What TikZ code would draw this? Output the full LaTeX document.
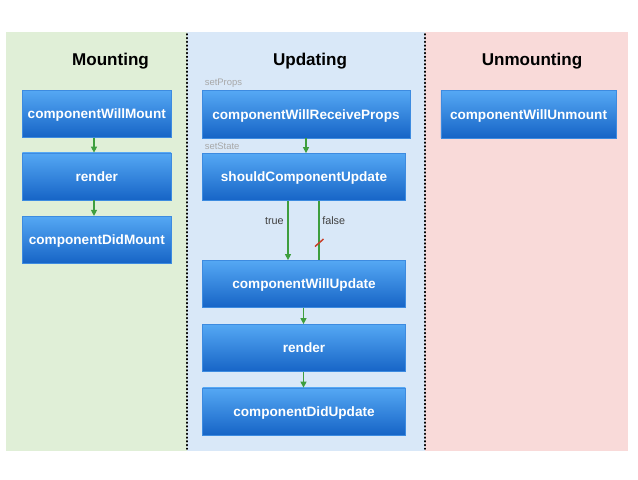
\documentclass[tikz,border=0pt]{standalone}
\usepackage{fontspec}
\setmainfont{Liberation Sans}
\usetikzlibrary{arrows.meta}
\definecolor{mountbg}{HTML}{E0EFD7}
\definecolor{updatebg}{HTML}{D9E8F8}
\definecolor{unmountbg}{HTML}{F9DAD9}
\definecolor{boxtop}{HTML}{55A8F4}
\definecolor{boxbot}{HTML}{1664C6}
\definecolor{boxedge}{HTML}{3D8BE0}
\definecolor{flow}{HTML}{3E9E3E}
\definecolor{hint}{HTML}{A8A8A8}
\definecolor{blocked}{HTML}{C8402A}
\begin{document}
\begin{tikzpicture}[x=0.75pt,y=-0.75pt,
  phase/.style={font=\fontsize{12.8}{14}\selectfont\bfseries,text height=9.2pt,text depth=0pt},
  lifebox/.style={draw=boxedge,line width=0.3pt,top color=boxtop,bottom color=boxbot,
    text=white,font=\fontsize{10.2}{12}\selectfont\bfseries,
    text height=7.3pt,text depth=0pt,
    minimum height=35.5pt,inner sep=0pt},
  wmount/.style={lifebox,minimum width=111.5pt},
  wupdate/.style={lifebox,minimum width=152pt},
  flowarrow/.style={draw=flow,line width=0.8pt,-{Triangle[length=4.5pt,width=4.5pt]}},
  hintlabel/.style={text=hint,font=\fontsize{7.1}{8}\selectfont,anchor=west,inner sep=0pt},
  branchlabel/.style={text=black!75,font=\fontsize{8.1}{9}\selectfont,inner sep=0pt},
  separator/.style={line width=1.2pt,dash pattern=on 0.6pt off 2.2pt,line cap=round}
]
\useasboundingbox (0,0) rectangle (638,479);
\fill[white] (0,0) rectangle (638,479);

% phase panels
\fill[mountbg] (6,32) rectangle (187,451);
\fill[updatebg] (187,32) rectangle (425,451);
\fill[unmountbg] (425,32) rectangle (628,451);
\draw[separator] (187,34) -- (187,449);
\draw[separator] (425,34) -- (425,449);

% phase titles
\node[phase] (tmount) at (110.5,59.5) {Mounting};
\node[phase] (tupdate) at (310,59.5) {Updating};
\node[phase] (tunmount) at (532,59.5) {Unmounting};

% mounting
\node[wmount] (cwm) at (96.8,113.8) {componentWillMount};
\node[wmount] (rm) at (96.8,176.5) {render};
\node[wmount] (cdm) at (96.8,239.8) {componentDidMount};
\draw[flowarrow] (cwm.south -| 94,0) -- (rm.north -| 94,0);
\draw[flowarrow] (rm.south -| 94,0) -- (cdm.north -| 94,0);

% updating
\node[lifebox,minimum width=156pt] (cwrp) at (306,114.3) {componentWillReceiveProps};
\node[wupdate] (scu) at (304,177) {shouldComponentUpdate};
\node[wupdate] (cwu) at (304,284) {componentWillUpdate};
\node[wupdate] (ru) at (304,348) {render};
\node[wupdate] (cdu) at (304,411.5) {componentDidUpdate};
\node[hintlabel] (lprops) at (204.5,83) {setProps};
\node[hintlabel] (lstate) at (204.5,146.5) {setState};

\draw[flowarrow] (cwrp.south -| 306,0) -- (scu.north -| 306,0);
\draw[flowarrow] (scu.south -| 288,0) -- (cwu.north -| 288,0);
\draw[draw=flow,line width=0.8pt] (scu.south -| 319,0) -- (cwu.north -| 319,0);
\draw[draw=blocked,line width=1.1pt] (315,246.5) -- (323.5,239);
\node[branchlabel,anchor=east] (ltrue) at (284,221) {true};
\node[branchlabel,anchor=west] (lfalse) at (322,221) {false};
\draw[flowarrow] (cwu.south -| 303.5,0) -- (ru.north -| 303.5,0);
\draw[flowarrow] (ru.south -| 303.5,0) -- (cdu.north -| 303.5,0);

% unmounting
\node[lifebox,minimum width=131.5pt] (cwum) at (528.5,114.3) {componentWillUnmount};
\end{tikzpicture}
\end{document}
